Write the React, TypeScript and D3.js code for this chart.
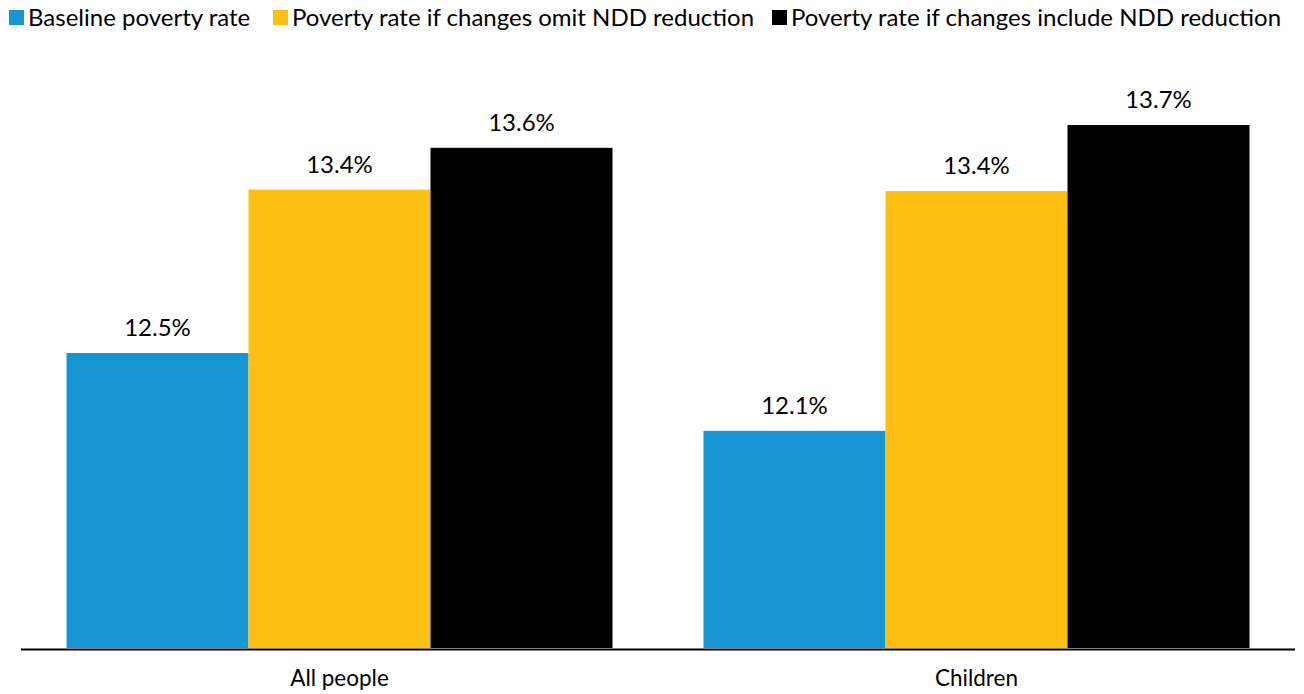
import React from "react";
import * as d3 from "d3";

const categories = ["All people", "Children"];
const seriesNames = [
  "Baseline poverty rate",
  "Poverty rate if changes omit NDD reduction",
  "Poverty rate if changes include NDD reduction",
];
const baseline = [12.5, 12.09];
const omitNDD = [13.36, 13.352];
const includeNDD = [13.58, 13.7];
const colors = ["#1696d2", "#fdbf11", "#000000"];

const W = 1304;
const H = 694;
const FONT = "Lato, 'Open Sans', sans-serif";

export default function App() {
  const seriesValues = [baseline, omitNDD, includeNDD];
  const x0 = d3.scaleBand<string>().domain(categories).range([21, 1295]).padding(0);
  const x1 = d3
    .scaleBand<number>()
    .domain([0, 1, 2])
    .range([0, x0.bandwidth()])
    .paddingInner(0)
    .paddingOuter(0.25);
  const y = d3.scaleLinear().domain([10.947, 14.095]).range([648, 50]);
  const fmt = (v: number) => (Math.round(v * 10) / 10).toFixed(1) + "%";

  const legendX = [9, 273, 772];

  return (
    <svg
      width={W}
      height={H}
      style={{ position: "absolute", left: 0, top: 0, background: "#fff" }}
      fontFamily={FONT}
    >
      {seriesNames.map((name, i) => (
        <g key={name} transform={`translate(${legendX[i]},0)`}>
          <rect x={0} y={10} width={15} height={15} fill={colors[i]} />
          <text x={19} y={26} fontSize={24} fill="#000">
            {name}
          </text>
        </g>
      ))}
      {categories.map((cat, ci) => (
        <g key={cat} transform={`translate(${x0(cat)},0)`}>
          {seriesValues.map((vals, si) => {
            const v = vals[ci];
            const bx = x1(si)!;
            const bw = x1.bandwidth();
            return (
              <g key={si}>
                <rect x={bx} y={y(v)} width={bw} height={y.range()[0] - y(v)} fill={colors[si]} />
                <text
                  x={bx + bw / 2}
                  y={y(v) - 17}
                  textAnchor="middle"
                  fontSize={24}
                  fill="#000"
                >
                  {fmt(v)}
                </text>
              </g>
            );
          })}
          <text x={x0.bandwidth() / 2} y={686} textAnchor="middle" fontSize={22.5} fill="#000">
            {cat}
          </text>
        </g>
      ))}
      <line x1={21} x2={1295} y1={649.5} y2={649.5} stroke="#000" strokeWidth={2} />
    </svg>
  );
}
